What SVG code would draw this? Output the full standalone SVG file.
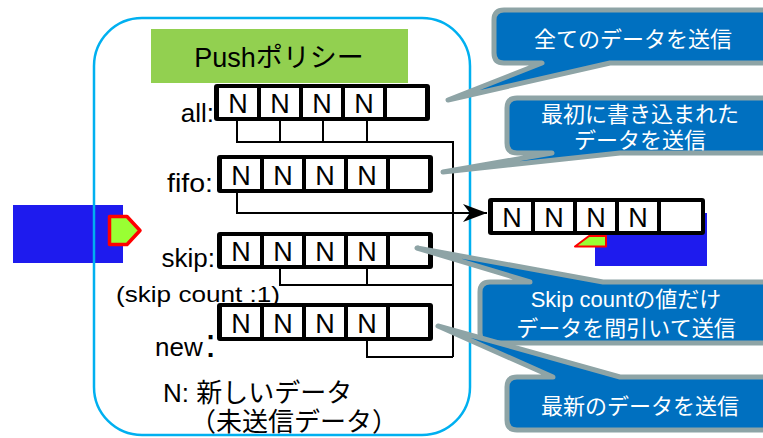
<svg xmlns="http://www.w3.org/2000/svg" width="763" height="438" viewBox="0 0 763 438">
<style>
text{font-family:"Liberation Sans","Noto Sans CJK JP",sans-serif;}
.lbl{font-size:26px;fill:#000;}
.n{font-size:27px;fill:#000;text-anchor:middle;}
.cell{fill:#fff;}
.frame{fill:#000;}
.conn{fill:none;stroke:#000;stroke-width:2;}
.call{fill:#0070C0;stroke:#8EA4A6;stroke-width:5;stroke-linejoin:round;}
.ct{font-size:22px;fill:#fff;text-anchor:middle;}
.port{fill:#99FF33;stroke:#FF0000;stroke-linejoin:round;}
.blk{fill:#1E1BEE;}
</style>
<defs>
<marker id="arr" markerUnits="userSpaceOnUse" markerWidth="26" markerHeight="20" refX="24" refY="10" orient="auto" viewBox="0 0 26 20">
<path d="M0,1 L24,10 L0,19 L7,10 Z" fill="#000"/>
</marker>
</defs>
<rect width="763" height="438" fill="#fff"/>

<g id="left-component">
<rect class="blk" x="13" y="205" width="110" height="58"/>
</g>

<g id="container">
<rect x="94" y="18" width="376" height="417" rx="48" fill="none" stroke="#00B0F0" stroke-width="2.5"/>
</g>

<g id="left-port">
<polygon class="port" stroke-width="3.5" points="109.5,216.5 127,216.5 140,230.5 127,244.5 109.5,244.5"/>
</g>

<g id="title">
<rect x="151" y="29" width="257" height="54" fill="#92D050"/>
<text x="279" y="67" font-size="27" text-anchor="middle">Pushポリシー</text>
</g>

<g id="connectors">
<path class="conn" d="M237,121 V142 H453 V357"/>
<path class="conn" d="M280,121 V142 M323,121 V142 M367,121 V142"/>
<path class="conn" d="M237,193 V213 H487" marker-end="url(#arr)"/>
<path class="conn" d="M280,269 V285 H453 M367,269 V285"/>
<path class="conn" d="M367,341 V357 H453"/>
</g>

<g id="row-all">
<text class="lbl" x="214" y="122" text-anchor="end">all:</text>
<rect class="frame" x="214" y="84" width="216" height="37" rx="3"/>
<rect class="cell" x="219" y="88" width="38" height="29"/>
<rect class="cell" x="261" y="88" width="38" height="29"/>
<rect class="cell" x="303" y="88" width="38" height="29"/>
<rect class="cell" x="345" y="88" width="38" height="29"/>
<rect class="cell" x="387" y="88" width="38" height="29"/>
<text class="n" x="238" y="113">N</text>
<text class="n" x="280" y="113">N</text>
<text class="n" x="322" y="113">N</text>
<text class="n" x="364" y="113">N</text>
</g>

<g id="row-fifo">
<text class="lbl" x="213" y="192" text-anchor="end" textLength="46" lengthAdjust="spacingAndGlyphs">fifo:</text>
<rect class="frame" x="217" y="155" width="216" height="38" rx="3"/>
<rect class="cell" x="222" y="159" width="38" height="30"/>
<rect class="cell" x="264" y="159" width="38" height="30"/>
<rect class="cell" x="306" y="159" width="38" height="30"/>
<rect class="cell" x="348" y="159" width="38" height="30"/>
<rect class="cell" x="390" y="159" width="38" height="30"/>
<text class="n" x="241" y="185">N</text>
<text class="n" x="283" y="185">N</text>
<text class="n" x="325" y="185">N</text>
<text class="n" x="367" y="185">N</text>
</g>

<g id="row-skip">
<text class="lbl" x="215" y="267" text-anchor="end">skip:</text>
<text x="116" y="302" font-size="22" textLength="164" lengthAdjust="spacingAndGlyphs">(skip count :1)</text>
<rect class="frame" x="217" y="232" width="216" height="37" rx="3"/>
<rect class="cell" x="222" y="236" width="38" height="29"/>
<rect class="cell" x="264" y="236" width="38" height="29"/>
<rect class="cell" x="306" y="236" width="38" height="29"/>
<rect class="cell" x="348" y="236" width="38" height="29"/>
<rect class="cell" x="390" y="236" width="38" height="29"/>
<text class="n" x="241" y="261">N</text>
<text class="n" x="283" y="261">N</text>
<text class="n" x="325" y="261">N</text>
<text class="n" x="367" y="261">N</text>
</g>

<g id="row-new">
<text class="lbl" x="155" y="356">new</text>
<text x="205" y="357" font-size="40">:</text>
<rect class="frame" x="217" y="303" width="216" height="38" rx="3"/>
<rect class="cell" x="222" y="307" width="38" height="30"/>
<rect class="cell" x="264" y="307" width="38" height="30"/>
<rect class="cell" x="306" y="307" width="38" height="30"/>
<rect class="cell" x="348" y="307" width="38" height="30"/>
<rect class="cell" x="390" y="307" width="38" height="30"/>
<text class="n" x="241" y="333">N</text>
<text class="n" x="283" y="333">N</text>
<text class="n" x="325" y="333">N</text>
<text class="n" x="367" y="333">N</text>
</g>

<g id="legend">
<text class="lbl" x="163" y="402">N: 新しいデータ</text>
<text class="lbl" x="190" y="431">（未送信データ）</text>
</g>

<g id="right-component">
<rect class="blk" x="595" y="213" width="112" height="53"/>
<polygon class="port" stroke-width="2" points="575,246.5 589,236 606,236 606,246.5"/>
</g>

<g id="output-row">
<rect class="frame" x="488" y="198" width="217" height="37" rx="3"/>
<rect class="cell" x="493" y="202" width="38" height="29"/>
<rect class="cell" x="535" y="202" width="38" height="29"/>
<rect class="cell" x="577" y="202" width="38" height="29"/>
<rect class="cell" x="619" y="202" width="38" height="29"/>
<rect class="cell" x="661" y="202" width="40" height="29"/>
<text class="n" x="512" y="227">N</text>
<text class="n" x="554" y="227">N</text>
<text class="n" x="596" y="227">N</text>
<text class="n" x="638" y="227">N</text>
</g>

<g id="callout-all">
<path class="call" d="M504,10 H785 V63 H610 L448,100 L542,63 H504 Q494,63 494,53 V20 Q494,10 504,10 Z"/>
<text class="ct" x="633" y="47">全てのデータを送信</text>
</g>

<g id="callout-fifo">
<path class="call" d="M517,98 H785 V153 H620 L443,172 L552,153 H517 Q507,153 507,143 V108 Q507,98 517,98 Z"/>
<text class="ct" x="640" y="122">最初に書き込まれた</text>
<text class="ct" x="640" y="148">データを送信</text>
</g>

<g id="callout-skip">
<path class="call" d="M490,282 H530 L417,248 L603,282 H785 V343 H490 Q480,343 480,333 V292 Q480,282 490,282 Z"/>
<text class="ct" x="626" y="307">Skip countの値だけ</text>
<text class="ct" x="626" y="336">データを間引いて送信</text>
</g>

<g id="callout-new">
<path class="call" d="M517,377 H553 L438,326 L620,377 H785 V430 H517 Q507,430 507,420 V387 Q507,377 517,377 Z"/>
<text class="ct" x="640" y="414">最新のデータを送信</text>
</g>
</svg>
